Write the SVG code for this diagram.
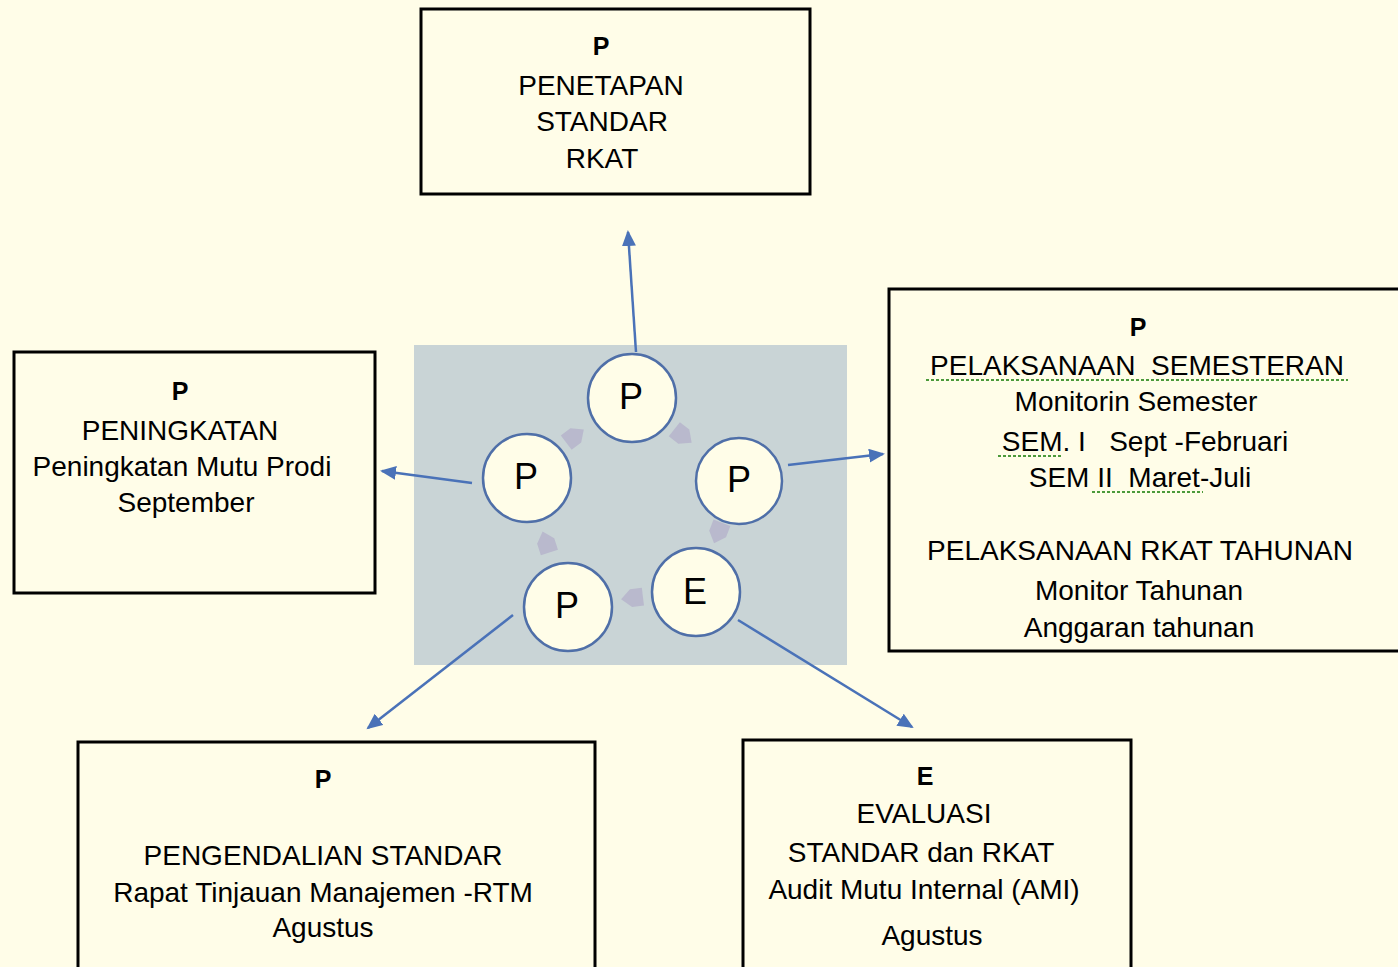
<svg xmlns="http://www.w3.org/2000/svg" width="1398" height="967" viewBox="0 0 1398 967">
<style>
.box{fill:#FFFDE8;stroke:#000;stroke-width:3}
.t{font-family:"Liberation Sans",Arial,sans-serif;font-size:28px;fill:#000;text-anchor:middle}
.h{font-family:"Liberation Sans",Arial,sans-serif;font-size:25px;font-weight:bold;fill:#000;text-anchor:middle}
.c{fill:#FFFDE8;stroke:#4F6FA8;stroke-width:2.5}
.ct{font-family:"Liberation Sans",Arial,sans-serif;font-size:36px;fill:#000;text-anchor:middle}
.conn{stroke:#4A72B8;stroke-width:2.5;fill:none;marker-end:url(#ah)}
.sq{stroke:#4C9A3A;stroke-width:2;stroke-dasharray:3 2;fill:none}
.fl{fill:#B9B9CD}
</style>
<defs>
<marker id="ah" markerUnits="userSpaceOnUse" markerWidth="18" markerHeight="16" refX="14" refY="7" orient="auto">
<path d="M0,0 L16,7 L0,14 Z" fill="#4A72B8"/>
</marker>
<path id="fa" d="M-11,-9 L1,-9 L11,0 L1,9 L-11,9 Z"/>
</defs>
<rect x="0" y="0" width="1398" height="967" fill="#FFFDE8"/>
<rect x="414" y="345" width="433" height="320" fill="#C9D4D6"/>

<g id="n-top">
<rect class="box" x="421" y="9" width="389" height="185"/>
<text class="h" x="601" y="55">P</text>
<text class="t" x="601" y="95">PENETAPAN</text>
<text class="t" x="602" y="131">STANDAR</text>
<text class="t" x="602" y="168">RKAT</text>
</g>

<g id="n-right">
<rect class="box" x="889" y="289" width="520" height="362"/>
<text class="h" x="1138" y="336">P</text>
<text class="t" x="1137" y="375" xml:space="preserve">PELAKSANAAN  SEMESTERAN</text>
<text class="t" x="1136" y="411">Monitorin Semester</text>
<text class="t" x="1145" y="451" xml:space="preserve">SEM. I   Sept -Februari</text>
<text class="t" x="1140" y="487" xml:space="preserve">SEM II  Maret-Juli</text>
<text class="t" x="1140" y="560">PELAKSANAAN RKAT TAHUNAN</text>
<text class="t" x="1139" y="600">Monitor Tahunan</text>
<text class="t" x="1139" y="637">Anggaran tahunan</text>
<path class="sq" d="M926,380 L1348,380"/>
<path class="sq" d="M998,456 L1063,456"/>
<path class="sq" d="M1092,492 L1203,492"/>
</g>

<g id="n-left">
<rect class="box" x="14" y="352" width="361" height="241"/>
<text class="h" x="180" y="400">P</text>
<text class="t" x="180" y="440">PENINGKATAN</text>
<text class="t" x="182" y="476">Peningkatan Mutu Prodi</text>
<text class="t" x="186" y="512">September</text>
</g>

<g id="n-bl">
<rect class="box" x="78" y="742" width="517" height="240"/>
<text class="h" x="323" y="788">P</text>
<text class="t" x="323" y="865">PENGENDALIAN STANDAR</text>
<text class="t" x="323" y="902">Rapat Tinjauan Manajemen -RTM</text>
<text class="t" x="323" y="937">Agustus</text>
</g>

<g id="n-br">
<rect class="box" x="743" y="740" width="388" height="242"/>
<text class="h" x="925" y="785">E</text>
<text class="t" x="924" y="823">EVALUASI</text>
<text class="t" x="921" y="862">STANDAR dan RKAT</text>
<text class="t" x="924" y="899">Audit Mutu Internal (AMI)</text>
<text class="t" x="932" y="945">Agustus</text>
</g>

<g id="cycle-arrows" class="fl">
<use href="#fa" transform="translate(683,436) rotate(38)"/>
<use href="#fa" transform="translate(718,533) rotate(111)"/>
<use href="#fa" transform="translate(632,598) rotate(173)"/>
<use href="#fa" transform="translate(546,542) rotate(252)"/>
<use href="#fa" transform="translate(575,436) rotate(-37)"/>
</g>

<g id="c-top"><circle class="c" cx="632" cy="398" r="44"/><text class="ct" x="631" y="409">P</text></g>
<g id="c-right"><circle class="c" cx="739" cy="481" r="43"/><text class="ct" x="739" y="492">P</text></g>
<g id="c-e"><circle class="c" cx="696" cy="592" r="44"/><text class="ct" x="695" y="604">E</text></g>
<g id="c-bottom"><circle class="c" cx="568" cy="607" r="44"/><text class="ct" x="567" y="618">P</text></g>
<g id="c-left"><circle class="c" cx="527" cy="478" r="44"/><text class="ct" x="526" y="489">P</text></g>

<g id="connectors">
<path class="conn" d="M636,352 L628,232"/>
<path class="conn" d="M472,483 L382,471"/>
<path class="conn" d="M788,465 L883,454"/>
<path class="conn" d="M513,615 L368,728"/>
<path class="conn" d="M738,620 L912,727"/>
</g>
</svg>
